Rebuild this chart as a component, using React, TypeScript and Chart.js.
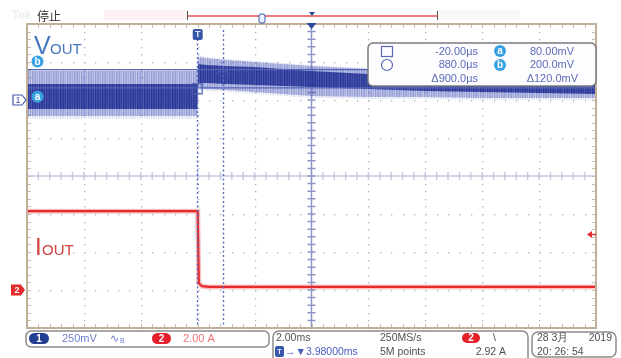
import React, { useEffect, useRef } from 'react';
import { Chart, registerables } from 'chart.js';

Chart.register(...registerables);

// ---------- data ----------
// time axis in ms, trigger at 0 (2 ms/div, 10 div)
const TIME_MIN = -6;
const TIME_MAX = 14;
const X_GRID = [-4, -2, 0, 2, 4, 6, 8, 10, 12];
const X_CENTER = 4;
const DIV_GRID = [-3, -2, -1, 1, 2, 3];

// CH1 (VOUT) noise envelope, mV (250 mV/div)
const bandTime = [-6, -0.01, 0.01, 0.3, 1, 2, 3, 4, 6, 8, 10, 12, 14];
const vHazeHi = [197, 197, 296, 283, 270, 257, 243, 230, 211, 191, 178, 164, 151];
const vOuterHi = [191, 191, 283, 276, 263, 250, 237, 224, 204, 184, 171, 158, 145];
const vCoreHi = [105, 105, 237, 230, 224, 217, 204, 191, 171, 158, 145, 138, 132];
const vCoreLo = [-59, -59, 112, 112, 105, 99, 92, 86, 72, 59, 53, 46, 39];
const vOuterLo = [-105, -105, 79, 72, 66, 53, 39, 26, 20, 20, 13, 13, 13];
const vHazeLo = [-125, -125, 66, 59, 53, 39, 26, 13, 7, 7, 0, 0, 0];

// CH2 (IOUT), A (2.00 A/div)
const iTime = [-6, 0, 0.04, 0.15, 0.4, 14];
const iAmps = [4.15, 4.15, 0.35, 0.2, 0.16, 0.16];

// cursors
const cursorTimes = [-0.02, 0.88]; // ms
const cursorLevels = [80, 200]; // mV  (a, b)

// readouts
const measRows = [
  ['-20.00µs', '80.00mV'],
  ['880.0µs', '200.0mV'],
  ['Δ900.0µs', 'Δ120.0mV'],
];
const ch1Scale = '250mV';
const ch2Scale = '2.00 A';
const timeScale = '2.00ms';
const trigDelay = '→▼3.98000ms';
const sampleRate = '250MS/s';
const recLen = '5M points';
const trigLevel = '2.92 A';
const dateText = '28 3月';
const yearText = '2019';
const clockText = '20: 26: 54';

// streak texture (style only)
const CORE_STREAK = [0.92, 0.8, 0.9, 0.74, 0.96, 0.82, 0.86];
const OUTER_STREAK = [0.44, 0.32, 0.41, 0.27, 0.47, 0.34, 0.38];
const HAZE_STREAK = [0.15, 0.07, 0.13, 0.04, 0.17, 0.08, 0.11];

const FONT = '"Liberation Sans", Arial, sans-serif';

function pts(xs: number[], ys: number[]) {
  return xs.map((x, i) => ({ x, y: ys[i] }));
}

function streakPattern(rgb: string, alphas: number[]) {
  const c = document.createElement('canvas');
  c.width = alphas.length;
  c.height = 1;
  const g = c.getContext('2d')!;
  alphas.forEach((al, i) => {
    g.fillStyle = `rgba(${rgb},${al})`;
    g.fillRect(i, 0, 1, 1);
  });
  return g.createPattern(c, 'repeat')!;
}

function roundRect(ctx: CanvasRenderingContext2D, x: number, y: number, w: number, h: number, r: number) {
  ctx.beginPath();
  ctx.moveTo(x + r, y);
  ctx.lineTo(x + w - r, y);
  ctx.arcTo(x + w, y, x + w, y + r, r);
  ctx.lineTo(x + w, y + h - r);
  ctx.arcTo(x + w, y + h, x + w - r, y + h, r);
  ctx.lineTo(x + r, y + h);
  ctx.arcTo(x, y + h, x, y + h - r, r);
  ctx.lineTo(x, y + r);
  ctx.arcTo(x, y, x + r, y, r);
  ctx.closePath();
}

function circleLabel(ctx: CanvasRenderingContext2D, cx: number, cy: number, ch: string) {
  ctx.fillStyle = '#36a2e2';
  ctx.beginPath();
  ctx.arc(cx, cy, 6, 0, Math.PI * 2);
  ctx.fill();
  ctx.fillStyle = '#ffffff';
  ctx.font = `bold 10px ${FONT}`;
  ctx.textAlign = 'center';
  ctx.textBaseline = 'middle';
  ctx.fillText(ch, cx, cy + 0.5);
}

function pill(ctx: CanvasRenderingContext2D, x: number, y: number, w: number, h: number, color: string, ch: string) {
  ctx.fillStyle = color;
  roundRect(ctx, x, y, w, h, h / 2);
  ctx.fill();
  ctx.fillStyle = '#ffffff';
  ctx.font = `bold 10px ${FONT}`;
  ctx.textAlign = 'center';
  ctx.textBaseline = 'middle';
  ctx.fillText(ch, x + w / 2, y + h / 2 + 0.5);
}

const scopePlugin = {
  id: 'scope',
  beforeDraw(chart: any) {
    const { ctx } = chart;
    ctx.save();
    ctx.fillStyle = '#ffffff';
    ctx.fillRect(0, 0, chart.width, chart.height);
    ctx.restore();
  },
  beforeDatasetsDraw(chart: any) {
    const { ctx, chartArea: a, scales } = chart;
    const xs = scales.x;
    const gs = scales.yG;
    ctx.save();
    // dotted grid
    ctx.fillStyle = '#aab0c8';
    for (const t of X_GRID) {
      if (t === X_CENTER) continue;
      const px = Math.round(xs.getPixelForValue(t));
      for (let k = -20; k <= 20; k++) {
        const py = Math.round(gs.getPixelForValue(k / 5));
        ctx.fillRect(px, py, 1.3, 1.3);
      }
    }
    for (const d of DIV_GRID) {
      const py = Math.round(gs.getPixelForValue(d));
      for (let k = -15; k <= 35; k++) {
        const px = Math.round(xs.getPixelForValue(k * 0.4));
        ctx.fillRect(px, py, 1.3, 1.3);
      }
    }
    // horizontal centre line with ticks
    const cy = gs.getPixelForValue(0);
    ctx.strokeStyle = '#c4c9df';
    ctx.lineWidth = 1.5;
    ctx.beginPath();
    ctx.moveTo(a.left, cy);
    ctx.lineTo(a.right, cy);
    for (let k = -15; k <= 35; k++) {
      const px = xs.getPixelForValue(k * 0.4);
      ctx.moveTo(px, cy - 4);
      ctx.lineTo(px, cy + 4);
    }
    ctx.stroke();
    // vertical centre line with ticks
    const cx = xs.getPixelForValue(X_CENTER);
    ctx.strokeStyle = '#8e96c8';
    ctx.beginPath();
    ctx.moveTo(cx, a.top);
    ctx.lineTo(cx, a.bottom);
    for (let k = -20; k <= 20; k++) {
      const py = gs.getPixelForValue(k / 5);
      ctx.moveTo(cx - 4, py);
      ctx.lineTo(cx + 4, py);
    }
    ctx.stroke();
    // border ticks
    ctx.strokeStyle = '#c9bcaa';
    ctx.lineWidth = 1;
    ctx.beginPath();
    for (let k = -15; k <= 35; k++) {
      const px = Math.round(xs.getPixelForValue(k * 0.4)) + 0.5;
      ctx.moveTo(px, a.top);
      ctx.lineTo(px, a.top + 4);
      ctx.moveTo(px, a.bottom);
      ctx.lineTo(px, a.bottom - 4);
    }
    for (let k = -20; k <= 20; k++) {
      const py = Math.round(gs.getPixelForValue(k / 5)) + 0.5;
      ctx.moveTo(a.left, py);
      ctx.lineTo(a.left + 4, py);
      ctx.moveTo(a.right, py);
      ctx.lineTo(a.right - 4, py);
    }
    ctx.stroke();
    ctx.restore();
  },
  afterDatasetsDraw(chart: any) {
    const { ctx, chartArea: a, scales } = chart;
    const xs = scales.x;
    const vs = scales.y;
    ctx.save();
    // vertical cursors
    ctx.strokeStyle = '#5a6ac2';
    ctx.lineWidth = 1.4;
    ctx.setLineDash([2, 2.5]);
    for (const t of cursorTimes) {
      const px = Math.round(xs.getPixelForValue(t)) + 0.5;
      ctx.beginPath();
      ctx.moveTo(px, a.top + 6);
      ctx.lineTo(px, a.bottom);
      ctx.stroke();
    }
    ctx.setLineDash([]);
    // cursor markers
    const ax = xs.getPixelForValue(cursorTimes[0]);
    const ay = vs.getPixelForValue(cursorLevels[0]);
    ctx.strokeStyle = '#4a5ab0';
    ctx.lineWidth = 1.2;
    ctx.strokeRect(ax - 5, ay - 4, 10, 10);
    const bx = xs.getPixelForValue(cursorTimes[1]);
    const by = vs.getPixelForValue(cursorLevels[1]);
    ctx.beginPath();
    ctx.moveTo(bx - 6, by + 4);
    ctx.lineTo(bx, by - 2);
    ctx.lineTo(bx + 6, by + 4);
    ctx.stroke();

    // frame
    ctx.strokeStyle = '#bfae98';
    ctx.lineWidth = 2;
    ctx.strokeRect(a.left, a.top, a.right - a.left, a.bottom - a.top);

    // top expansion marker
    const cx = xs.getPixelForValue(X_CENTER);
    ctx.fillStyle = '#2a48a0';
    ctx.beginPath();
    ctx.moveTo(cx - 5, a.top - 1);
    ctx.lineTo(cx + 5, a.top - 1);
    ctx.lineTo(cx, a.top + 5);
    ctx.closePath();
    ctx.fill();
    // trigger T marker
    const tx = xs.getPixelForValue(0);
    ctx.fillStyle = '#3656aa';
    roundRect(ctx, tx - 5, a.top + 5, 10, 11, 2);
    ctx.fill();
    ctx.fillStyle = '#dfe6ff';
    ctx.font = `bold 9px ${FONT}`;
    ctx.textAlign = 'center';
    ctx.textBaseline = 'middle';
    ctx.fillText('T', tx, a.top + 11);

    // channel markers
    const g1 = vs.getPixelForValue(0);
    ctx.fillStyle = '#ffffff';
    ctx.strokeStyle = '#4456aa';
    ctx.lineWidth = 1.2;
    ctx.beginPath();
    ctx.moveTo(13, g1 - 5);
    ctx.lineTo(22, g1 - 5);
    ctx.lineTo(26, g1);
    ctx.lineTo(22, g1 + 5);
    ctx.lineTo(13, g1 + 5);
    ctx.closePath();
    ctx.fill();
    ctx.stroke();
    ctx.fillStyle = '#4456aa';
    ctx.font = `9px ${FONT}`;
    ctx.fillText('1', 18, g1 + 0.5);
    circleLabel(ctx, 37.5, vs.getPixelForValue(cursorLevels[0]) + 9, 'a');
    circleLabel(ctx, 37.5, vs.getPixelForValue(cursorLevels[1]) - 8, 'b');

    const is = scales.yI;
    const g2 = is.getPixelForValue(0);
    ctx.fillStyle = '#e42a2a';
    ctx.beginPath();
    ctx.moveTo(11, g2 - 5.5);
    ctx.lineTo(21, g2 - 5.5);
    ctx.lineTo(25, g2);
    ctx.lineTo(21, g2 + 5.5);
    ctx.lineTo(11, g2 + 5.5);
    ctx.closePath();
    ctx.fill();
    ctx.fillStyle = '#ffffff';
    ctx.font = `bold 9px ${FONT}`;
    ctx.fillText('2', 17, g2 + 0.5);
    // trigger level arrow
    const tl = is.getPixelForValue(2.92);
    ctx.fillStyle = '#e42a2a';
    ctx.beginPath();
    ctx.moveTo(587, tl);
    ctx.lineTo(592, tl - 3.5);
    ctx.lineTo(592, tl + 3.5);
    ctx.closePath();
    ctx.fill();
    ctx.fillRect(591, tl - 0.7, 5, 1.4);

    // trace labels
    ctx.textAlign = 'left';
    ctx.textBaseline = 'alphabetic';
    ctx.fillStyle = '#4676be';
    ctx.font = `25px ${FONT}`;
    ctx.fillText('V', 34, 54);
    ctx.font = `15px ${FONT}`;
    ctx.fillText('OUT', 50, 54);
    ctx.fillStyle = '#d2423c';
    ctx.font = `24px ${FONT}`;
    ctx.fillText('I', 35, 255);
    ctx.font = `15px ${FONT}`;
    ctx.fillText('OUT', 42, 255);

    // measurement box
    ctx.fillStyle = '#fdfcff';
    ctx.strokeStyle = '#7a7a80';
    ctx.lineWidth = 1.5;
    roundRect(ctx, 368, 43, 228, 43, 5);
    ctx.fill();
    ctx.stroke();
    ctx.strokeStyle = '#5a6ab8';
    ctx.lineWidth = 1.2;
    ctx.strokeRect(381.5, 46.5, 11, 10);
    ctx.beginPath();
    ctx.arc(387, 65, 5.5, 0, Math.PI * 2);
    ctx.stroke();
    circleLabel(ctx, 500, 51, 'a');
    circleLabel(ctx, 500, 65, 'b');
    ctx.fillStyle = '#5c6cb8';
    ctx.font = `11px ${FONT}`;
    ctx.textAlign = 'right';
    ctx.textBaseline = 'middle';
    const rowsY = [51.5, 65, 79];
    measRows.forEach((r, i) => {
      ctx.fillText(r[0], 478, rowsY[i]);
      ctx.fillText(r[1], i === 2 ? 578 : 574, rowsY[i]);
    });

    // top status line
    ctx.fillStyle = '#f0f0f0';
    ctx.font = `bold 12px ${FONT}`;
    ctx.textAlign = 'left';
    ctx.fillText('Tek', 12, 16);
    ctx.fillStyle = '#333333';
    ctx.font = `12px "Noto Sans CJK SC", sans-serif`;
    ctx.fillText('停止', 37, 16);
    ctx.fillStyle = '#fcf1f3';
    ctx.fillRect(104, 10, 83, 10);
    ctx.fillStyle = '#faf7f7';
    ctx.fillRect(438, 10, 82, 10);
    ctx.strokeStyle = '#f07a7a';
    ctx.lineWidth = 2;
    ctx.beginPath();
    ctx.moveTo(187, 16);
    ctx.lineTo(437, 16);
    ctx.stroke();
    ctx.strokeStyle = '#555555';
    ctx.lineWidth = 1;
    ctx.beginPath();
    ctx.moveTo(187.5, 11);
    ctx.lineTo(187.5, 20);
    ctx.moveTo(437.5, 11);
    ctx.lineTo(437.5, 20);
    ctx.stroke();
    ctx.fillStyle = '#eef0ff';
    ctx.strokeStyle = '#3a58a8';
    roundRect(ctx, 259, 14, 6, 9, 2);
    ctx.fill();
    ctx.stroke();
    ctx.fillStyle = '#2a48a0';
    ctx.beginPath();
    ctx.moveTo(309, 12);
    ctx.lineTo(315, 12);
    ctx.lineTo(312, 16);
    ctx.closePath();
    ctx.fill();

    // bottom readout boxes
    ctx.strokeStyle = '#8c8c8c';
    ctx.lineWidth = 1.5;
    ctx.fillStyle = '#ffffff';
    roundRect(ctx, 26, 331, 243, 16, 5);
    ctx.fill();
    ctx.stroke();
    roundRect(ctx, 273, 331, 255, 34, 6);
    ctx.stroke();
    roundRect(ctx, 532, 332, 84, 25, 6);
    ctx.stroke();

    pill(ctx, 29, 333, 20, 11, '#223f94', '1');
    pill(ctx, 152, 333, 19, 11, '#e6202a', '2');
    ctx.textAlign = 'left';
    ctx.textBaseline = 'middle';
    ctx.font = `11px ${FONT}`;
    ctx.fillStyle = '#6e7ecc';
    ctx.fillText(ch1Scale, 62, 339);
    ctx.fillText('∿', 110, 339);
    ctx.font = `7px ${FONT}`;
    ctx.fillText('B', 120, 341);
    ctx.font = `11px ${FONT}`;
    ctx.fillStyle = '#f07474';
    ctx.fillText(ch2Scale, 183, 339);

    ctx.fillStyle = '#505050';
    ctx.font = `10.5px ${FONT}`;
    ctx.fillText(timeScale, 276, 338);
    ctx.fillText(sampleRate, 380, 338);
    ctx.fillText(recLen, 380, 352);
    ctx.fillText('\\', 493, 338);
    ctx.textAlign = 'right';
    ctx.fillText(trigLevel, 506, 352);
    ctx.fillText(yearText, 612, 338);
    ctx.textAlign = 'left';
    ctx.fillText(dateText, 537, 338);
    ctx.fillText(clockText, 537, 352);
    pill(ctx, 462, 333, 18, 10, '#e6202a', '2');
    ctx.fillStyle = '#3656aa';
    roundRect(ctx, 275, 346, 9, 11, 2);
    ctx.fill();
    ctx.fillStyle = '#dfe6ff';
    ctx.font = `bold 8px ${FONT}`;
    ctx.textAlign = 'center';
    ctx.fillText('T', 279.5, 352);
    ctx.fillStyle = '#4a5cc0';
    ctx.font = `10.5px ${FONT}`;
    ctx.textAlign = 'left';
    ctx.fillText(trigDelay, 285, 352);
    ctx.restore();
  },
};

export default function App() {
  const ref = useRef<HTMLCanvasElement | null>(null);
  useEffect(() => {
    if (!ref.current) return;
    const fullX = [TIME_MIN, TIME_MAX];
    const corePat = streakPattern('36,50,150', CORE_STREAK);
    const outerPat = streakPattern('60,74,176', OUTER_STREAK);
    const hazePat = streakPattern('70,84,186', HAZE_STREAK);
    const band = (label: string, ys: number[], bg: any, order: number) => ({
      label,
      data: pts(bandTime, ys),
      yAxisID: 'y',
      borderWidth: 0,
      borderColor: 'rgba(0,0,0,0)',
      backgroundColor: bg,
      pointRadius: 0,
      fill: bg ? '+1' : false,
      order,
    });
    const chart = new Chart(ref.current, {
      type: 'line',
      data: {
        datasets: [
          {
            label: 'IOUT core',
            data: pts(iTime, iAmps),
            yAxisID: 'yI',
            borderColor: '#e52a2e',
            borderWidth: 2.2,
            pointRadius: 0,
            fill: false,
            order: 0,
          },
          {
            label: 'IOUT halo',
            data: pts(iTime, iAmps),
            yAxisID: 'yI',
            borderColor: 'rgba(238,80,80,0.35)',
            borderWidth: 5,
            pointRadius: 0,
            fill: false,
            order: 1,
          },
          {
            label: 'cursor a',
            data: pts(fullX, [cursorLevels[0], cursorLevels[0]]),
            yAxisID: 'y',
            borderColor: '#5566b8',
            borderWidth: 1.2,
            pointRadius: 0,
            fill: false,
            order: 2,
          },
          {
            label: 'cursor b',
            data: pts(fullX, [cursorLevels[1], cursorLevels[1]]),
            yAxisID: 'y',
            borderColor: '#5566b8',
            borderWidth: 1.2,
            pointRadius: 0,
            fill: false,
            order: 3,
          },
          band('VOUT core hi', vCoreHi, corePat, 4),
          band('VOUT core lo', vCoreLo, null, 5),
          band('VOUT outer hi', vOuterHi, outerPat, 6),
          band('VOUT outer lo', vOuterLo, null, 7),
          band('VOUT haze hi', vHazeHi, hazePat, 8),
          band('VOUT haze lo', vHazeLo, null, 9),
        ] as any,
      },
      options: {
        animation: false,
        responsive: false,
        maintainAspectRatio: false,
        parsing: false,
        layout: { padding: { left: 27, right: 25, top: 24, bottom: 30 } },
        scales: {
          x: { type: 'linear', min: TIME_MIN, max: TIME_MAX, display: false },
          y: { type: 'linear', axis: 'y', position: 'left', min: -1500, max: 500, display: false },
          yI: { type: 'linear', axis: 'y', position: 'left', min: -2, max: 14, display: false },
          yG: { type: 'linear', axis: 'y', position: 'left', min: -4, max: 4, display: false },
        },
        plugins: {
          legend: { display: false },
          tooltip: { enabled: false },
        },
        elements: { line: { tension: 0 } },
      } as any,
      plugins: [scopePlugin],
    });
    return () => chart.destroy();
  }, []);
  return (
    <div style={{ position: 'fixed', left: 0, top: 0, width: 621, height: 358, background: '#fff' }}>
      <canvas ref={ref} width={621} height={358} style={{ width: 621, height: 358, display: 'block' }} />
    </div>
  );
}
